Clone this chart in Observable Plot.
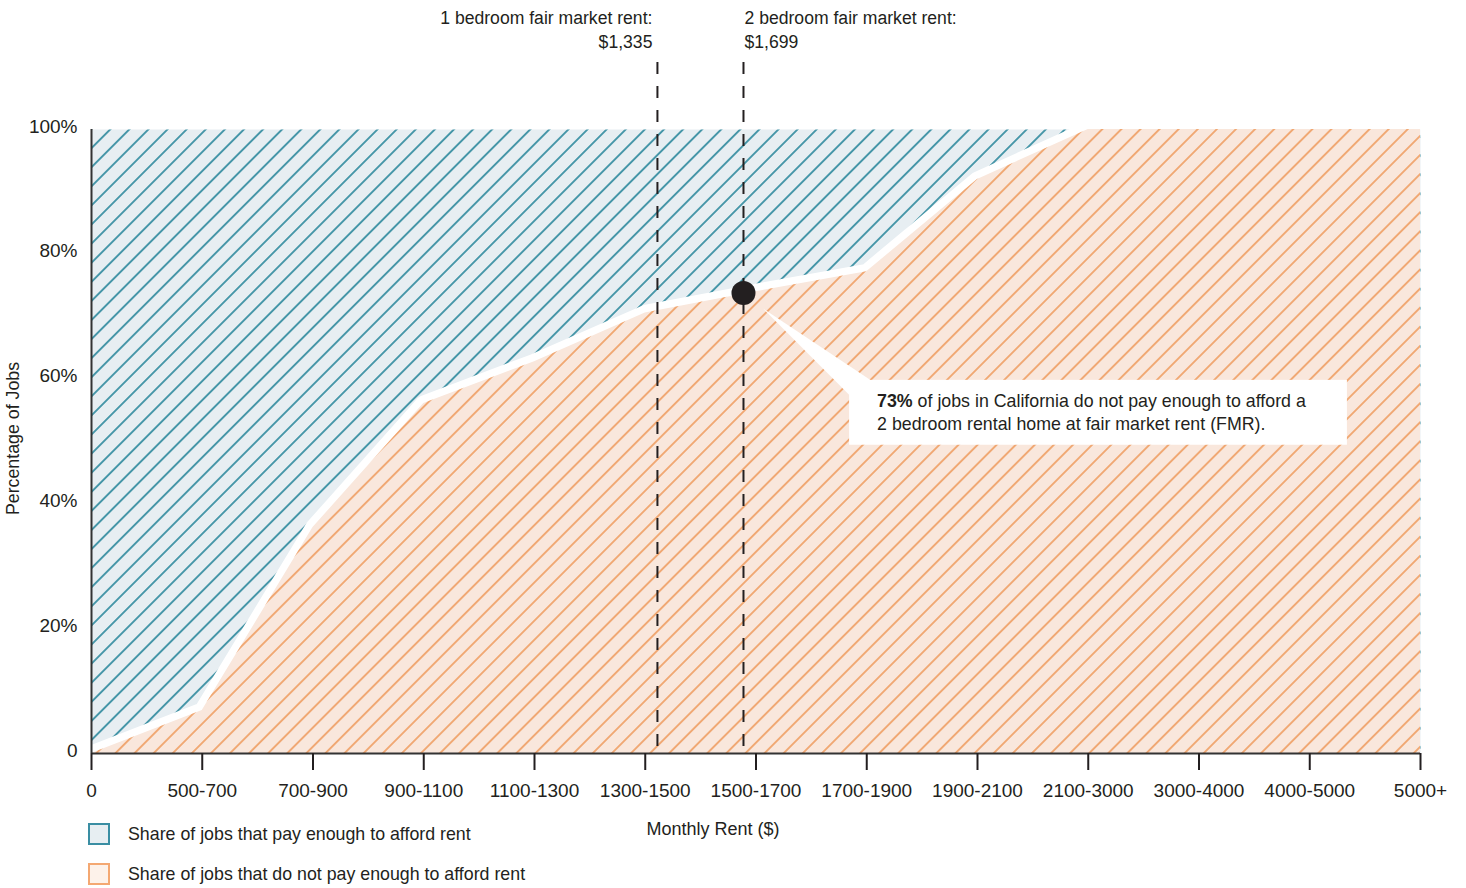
<!DOCTYPE html>
<html>
<head>
<meta charset="utf-8">
<script src="https://cdn.jsdelivr.net/npm/d3@7"></script>
<script src="https://cdn.jsdelivr.net/npm/@observablehq/plot@0.6"></script>
<style>
  html, body { margin: 0; padding: 0; background: #fff; overflow: hidden; }
  #wrap { position: relative; width: 1466px; height: 888px; font-family: "Liberation Sans", Arial, sans-serif; color: #231f20; }
  #legend { position: absolute; left: 88px; top: 823px; font-size: 17.8px; }
  .item { display: flex; align-items: center; height: 22px; margin-bottom: 18px; }
  .sw { width: 18px; height: 18px; border: 2px solid; margin-right: 18px; }
</style>
</head>
<body>
<div id="wrap"><div id="chart"></div><div id="legend"></div></div>
<script>
// ---- data ----
const categories = ["0", "500-700", "700-900", "900-1100", "1100-1300", "1300-1500", "1500-1700",
  "1700-1900", "1900-2100", "2100-3000", "3000-4000", "4000-5000", "5000+"];
// share of jobs (%) that do NOT pay enough to afford rent at each rent level
const shareNotAfford = [0, 6.9, 36.2, 56.1, 62.8, 70.6, 74.0, 77.2, 92.0, 100, 100, 100, 100];
const yTicks = [0, 20, 40, 60, 80, 100];
// fair market rent markers (position on the rent axis, in category units)
const fmrPos = [5.11, 5.887];
const fmrTitle = ["1 bedroom fair market rent:", "2 bedroom fair market rent:"];
const fmrValue = ["$1,335", "$1,699"];
const highlightValue = 73.8;
const calloutBold = "73%";
const calloutLines = [" of jobs in California do not pay enough to afford a", "2 bedroom rental home at fair market rent (FMR)."];
const calloutX = [6.845, 11.34];
const calloutY = [49.4, 59.8];
const legendLabels = ["Share of jobs that pay enough to afford rent", "Share of jobs that do not pay enough to afford rent"];

const C = {
  blueBg: "#e7eef2", blueLine: "#2f8a9e",
  orangeBg: "#f9e7dc", orangeLine: "#f0a065",
  ink: "#231f20", axis: "#333333"
};

const idx = (d, i) => i;

const defsMark = () => {
  const defs = d3.create("svg:defs");
  for (const [id, fg] of [["hatchBlue", C.blueLine], ["hatchOrange", C.orangeLine]]) {
    const s = 13.5;
    const p = defs.append("pattern").attr("id", id)
      .attr("patternUnits", "userSpaceOnUse")
      .attr("width", s).attr("height", s)
      .attr("patternTransform", "rotate(45)");
    p.append("line").attr("x1", s / 2).attr("x2", s / 2).attr("y1", -1).attr("y2", s + 1)
      .attr("stroke", fg).attr("stroke-width", 1.7);
  }
  return defs.node();
};

const calloutMark = (index, {x, y}) => {
  const g = d3.create("svg:g");
  const cx = x(fmrPos[1]), cy = y(highlightValue);
  const bx1 = x(calloutX[0]), bx2 = x(calloutX[1]);
  const by1 = y(calloutY[1]), by2 = y(calloutY[0]);
  g.append("path")
    .attr("d", `M${cx + 20},${cy + 16}L${bx1 + 21},${by1}L${bx1},${by1 + 15}Z`)
    .attr("fill", "white");
  g.append("rect").attr("x", bx1).attr("y", by1).attr("width", bx2 - bx1).attr("height", by2 - by1).attr("fill", "white");
  const t = g.append("text").attr("font-size", 17.8).attr("fill", C.ink).attr("text-anchor", "start");
  const l1 = t.append("tspan").attr("x", bx1 + 28).attr("y", by1 + 27);
  l1.append("tspan").attr("font-weight", "bold").text(calloutBold);
  l1.append("tspan").text(calloutLines[0]);
  t.append("tspan").attr("x", bx1 + 28).attr("y", by1 + 50).text(calloutLines[1]);
  return g.node();
};

const fmr = fmrPos.map((p, i) => ({pos: p, label: fmrTitle[i] + "\n" + fmrValue[i]}));

const chart = Plot.plot({
  width: 1466,
  height: 888,
  marginLeft: 91,
  marginRight: 46,
  marginTop: 129,
  marginBottom: 135,
  style: {fontFamily: "'Liberation Sans', Arial, sans-serif", fontSize: "18px", color: C.ink, background: "white", overflow: "visible"},
  x: {domain: [0, categories.length - 1]},
  y: {domain: [0, 100]},
  marks: [
    defsMark,
    Plot.frame({fill: C.blueBg, stroke: "none"}),
    Plot.frame({fill: "url(#hatchBlue)", stroke: "none"}),
    Plot.line(shareNotAfford, {x: idx, y: d => d, stroke: "white", strokeWidth: 16, strokeLinecap: "butt", strokeLinejoin: "miter"}),
    Plot.areaY(shareNotAfford, {x: idx, y: d => d, fill: C.orangeBg}),
    Plot.areaY(shareNotAfford, {x: idx, y: d => d, fill: "url(#hatchOrange)"}),
    Plot.ruleX(fmrPos, {stroke: C.ink, strokeWidth: 2, strokeDasharray: "12,12", insetTop: -67}),
    Plot.ruleY([0], {stroke: C.axis, strokeWidth: 2}),
    Plot.ruleX([0], {stroke: C.axis, strokeWidth: 2}),
    Plot.axisX({ticks: d3.range(categories.length), tickFormat: i => categories[i], tickSize: 17, tickPadding: 13,
      fontSize: 19, strokeWidth: 2, color: C.ink, label: null}),
    Plot.axisY({ticks: yTicks, tickFormat: d => d === 0 ? "0" : d + "%", tickSize: 0, tickPadding: 14,
      fontSize: 19, dy: -3, color: C.ink, label: null}),
    Plot.dot([highlightValue], {x: fmrPos[1], y: d => d, r: 12, fill: C.ink, stroke: "none"}),
    calloutMark,
    Plot.text([fmr[0]], {x: "pos", text: "label", frameAnchor: "top", textAnchor: "end", lineAnchor: "top",
      lineHeight: 1.36, dx: -5, dy: -122, fontSize: 17.6, fill: C.ink}),
    Plot.text([fmr[1]], {x: "pos", text: "label", frameAnchor: "top", textAnchor: "start", lineAnchor: "top",
      lineHeight: 1.36, dx: 1, dy: -122, fontSize: 17.6, fill: C.ink}),
    Plot.text(["Percentage of Jobs"], {frameAnchor: "left", textAnchor: "middle", lineAnchor: "middle", rotate: -90, dx: -78, dy: -3, fontSize: 17.8, fill: C.ink}),
    Plot.text(["Monthly Rent ($)"], {frameAnchor: "bottom", textAnchor: "middle", lineAnchor: "middle", dx: -43, dy: 76, fontSize: 18, fill: C.ink})
  ]
});
document.getElementById("chart").appendChild(chart);

// legend (HTML, drawn over the bottom-left of the figure area)
const legendColors = [[C.blueBg, "#3a8ea3"], ["#fdf2ea", "#f4a872"]];
const legend = d3.select("#legend");
legendLabels.forEach((lab, i) => {
  const it = legend.append("div").attr("class", "item");
  it.append("div").attr("class", "sw").style("background", legendColors[i][0]).style("border-color", legendColors[i][1]);
  it.append("span").text(lab);
});
</script>
</body>
</html>
